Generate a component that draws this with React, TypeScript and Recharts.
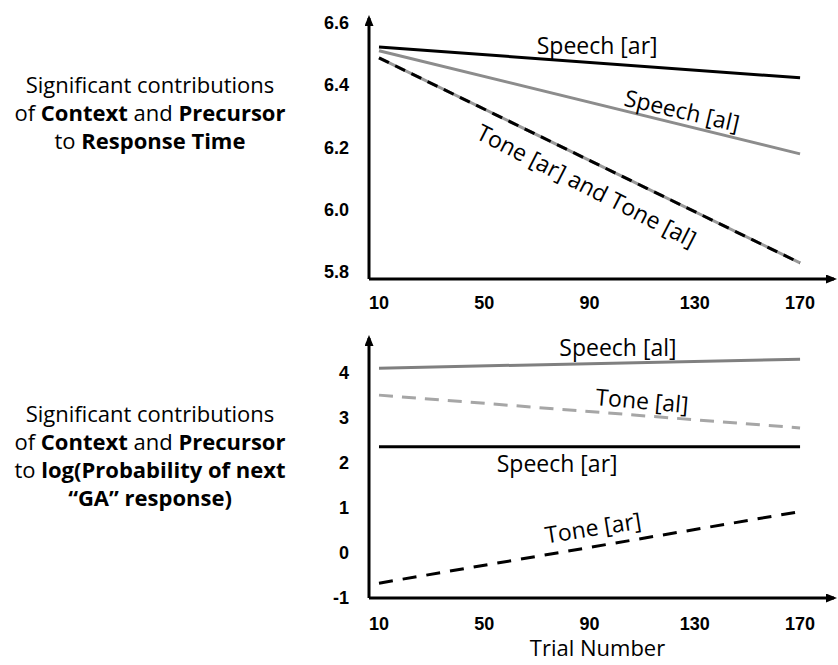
import { Label, Line, LineChart, ReferenceDot, XAxis, YAxis } from "recharts";

// trial numbers where the fitted lines start and end
const trials = [10, 170];
const trialTicks = [10, 50, 90, 130, 170];

// response time panel
const rtTicks = [5.8, 6.0, 6.2, 6.4, 6.6];
const speechArRT = [6.522, 6.423];
const speechAlRT = [6.51, 6.179];
const toneRT = [6.487, 5.829];

// log(probability) panel
const logTicks = [-1, 0, 1, 2, 3, 4];
const speechAlLog = [4.11, 4.31];
const toneAlLog = [3.51, 2.78];
const speechArLog = [2.36, 2.36];
const toneArLog = [-0.67, 0.92];

const rtData = trials.map((t, i) => ({
  trial: t,
  speechAr: speechArRT[i],
  speechAl: speechAlRT[i],
  tone: toneRT[i],
}));

const logData = trials.map((t, i) => ({
  trial: t,
  speechAl: speechAlLog[i],
  toneAl: toneAlLog[i],
  speechAr: speechArLog[i],
  toneAr: toneArLog[i],
}));

const FONT = "'Open Sans', sans-serif";
const TICK = { fill: "#000", fontSize: 18, fontWeight: 700, fontFamily: "'Liberation Sans', Arial, sans-serif" };
const AXIS_X = { stroke: "#000", strokeWidth: 3, markerEnd: "url(#arrowRight)" };
const AXIS_Y = { stroke: "#000", strokeWidth: 3, markerStart: "url(#arrowUp)" };

const note = (text: string, angle = 0) => (props: any) => {
  const vb = props.viewBox || { x: props.x, y: props.y, width: 0, height: 0 };
  const cx = vb.x + (vb.width || 0) / 2;
  const cy = vb.y + (vb.height || 0) / 2;
  return (
    <text
      x={cx}
      y={cy}
      textAnchor="middle"
      dominantBaseline="central"
      transform={`rotate(${angle} ${cx} ${cy})`}
      fontFamily={FONT}
      fontSize={23}
      fill="#000"
    >
      {text}
    </text>
  );
};

const sideText: React.CSSProperties = {
  position: "absolute",
  left: 0,
  width: 300,
  textAlign: "center",
  fontFamily: FONT,
  fontSize: 22,
  lineHeight: "28px",
  color: "#000",
};

export default function App() {
  return (
    <div style={{ position: "absolute", left: 0, top: 0, width: 838, height: 665, background: "#fff" }}>
      <svg width={0} height={0} style={{ position: "absolute" }}>
        <defs>
          <marker id="arrowRight" markerUnits="userSpaceOnUse" markerWidth={12} markerHeight={10} refX={8} refY={4.5} orient="0">
            <path d="M0,0 L11,4.5 L0,9 z" fill="#000" />
          </marker>
          <marker id="arrowUp" markerUnits="userSpaceOnUse" markerWidth={12} markerHeight={10} refX={8} refY={4.5} orient="-90">
            <path d="M0,0 L11,4.5 L0,9 z" fill="#000" />
          </marker>
        </defs>
      </svg>

      <div style={{ ...sideText, top: 70 }}>
        Significant contributions
        <br />
        of <b>Context</b> and <b>Precursor</b>
        <br />
        to <b>Response Time</b>
      </div>
      <div style={{ ...sideText, top: 399 }}>
        Significant contributions
        <br />
        of <b>Context</b> and <b>Precursor</b>
        <br />
        to <b>log(Probability of next</b>
        <br />
        <b>“GA” response)</b>
      </div>

      <div style={{ position: "absolute", left: 0, top: 0 }}>
        <LineChart width={838} height={315} data={rtData} margin={{ top: 18, right: 4, left: 0, bottom: 0 }}>
          <XAxis
            dataKey="trial"
            type="number"
            domain={[6.2, 182.9]}
            ticks={trialTicks}
            interval={0}
            tickLine={false}
            tickMargin={11}
            axisLine={AXIS_X}
            tick={TICK}
            height={36}
          />
          <YAxis
            type="number"
            domain={[5.7775, 6.615]}
            ticks={rtTicks}
            tickFormatter={(v: number) => v.toFixed(1)}
            interval={0}
            tickLine={false}
            tickMargin={14}
            axisLine={AXIS_Y}
            tick={TICK}
            width={369}
          />
          <Line dataKey="speechAr" stroke="#000" strokeWidth={3} dot={false} isAnimationActive={false} />
          <Line dataKey="speechAl" stroke="#8c8c8c" strokeWidth={3} dot={false} isAnimationActive={false} />
          <Line dataKey="tone" stroke="#9a9a9a" strokeWidth={3} dot={false} isAnimationActive={false} />
          <Line dataKey="tone" stroke="#000" strokeWidth={3} strokeDasharray="11 7" dot={false} isAnimationActive={false} />
          <ReferenceDot x={92.9} y={6.529} r={0} stroke="none" label={note("Speech [ar]")} />
          <ReferenceDot x={125.2} y={6.32} r={0} stroke="none" label={note("Speech [al]", 13)} />
          <ReferenceDot x={89} y={6.079} r={0} stroke="none" label={note("Tone [ar] and Tone [al]", 27)} />
        </LineChart>
      </div>

      <div style={{ position: "absolute", left: 0, top: 300 }}>
        <LineChart width={838} height={365} data={logData} margin={{ top: 38, right: 4, left: 0, bottom: 0 }}>
          <XAxis
            dataKey="trial"
            type="number"
            domain={[6.2, 182.9]}
            ticks={trialTicks}
            interval={0}
            tickLine={false}
            tickMargin={13}
            axisLine={AXIS_X}
            tick={TICK}
            height={67}
          >
            <Label value="Trial Number" position="insideBottom" offset={9} dx={-4} fill="#000" fontSize={22} fontFamily={FONT} />
          </XAxis>
          <YAxis
            type="number"
            domain={[-1, 4.78]}
            ticks={logTicks}
            interval={0}
            tickLine={false}
            tickMargin={14}
            axisLine={AXIS_Y}
            tick={TICK}
            width={369}
          />
          <Line dataKey="speechAl" stroke="#808080" strokeWidth={3} dot={false} isAnimationActive={false} />
          <Line dataKey="toneAl" stroke="#a6a6a6" strokeWidth={3} strokeDasharray="14 9" dot={false} isAnimationActive={false} />
          <Line dataKey="speechAr" stroke="#000" strokeWidth={3} dot={false} isAnimationActive={false} />
          <Line dataKey="toneAr" stroke="#000" strokeWidth={3} strokeDasharray="14 10" dot={false} isAnimationActive={false} />
          <ReferenceDot x={100.8} y={4.58} r={0} stroke="none" label={note("Speech [al]")} />
          <ReferenceDot x={110} y={3.4} r={0} stroke="none" label={note("Tone [al]", 5)} />
          <ReferenceDot x={77.7} y={2.0} r={0} stroke="none" label={note("Speech [ar]")} />
          <ReferenceDot x={91.3} y={0.58} r={0} stroke="none" label={note("Tone [ar]", -9)} />
        </LineChart>
      </div>
    </div>
  );
}
